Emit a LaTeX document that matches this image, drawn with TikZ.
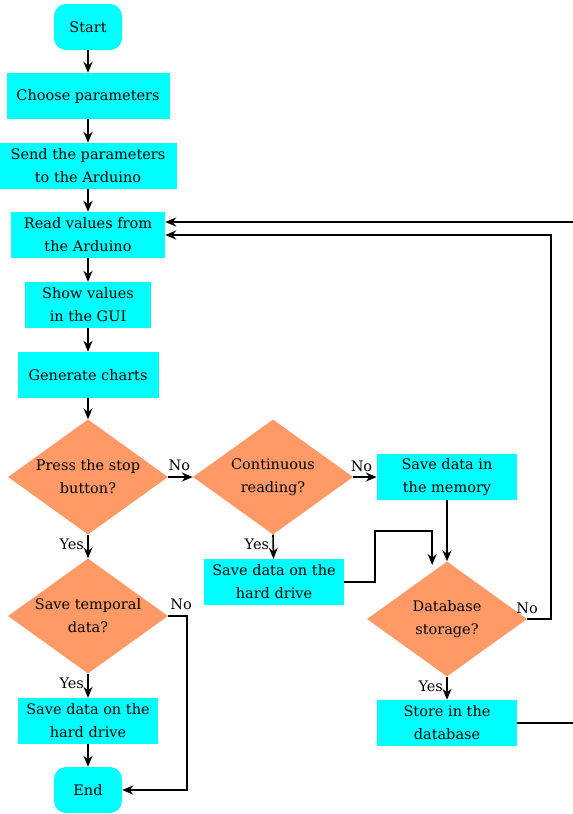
\documentclass[tikz,border=0pt]{standalone}
\usepackage{fontspec}
\setmainfont{DejaVu Serif}
\usepackage{tikz}
\usetikzlibrary{arrows.meta,shapes.geometric}
\definecolor{boxcyan}{RGB}{0,255,255}
\definecolor{decorange}{RGB}{255,153,102}

\begin{document}
\begin{tikzpicture}[x=1pt,y=-1pt,
  font=\fontsize{14.5}{23}\selectfont,
  proc/.style={fill=boxcyan,minimum height=46pt,inner sep=2pt,align=center},
  term/.style={proc,rounded corners=12pt,minimum width=68pt},
  dec/.style={diamond,fill=decorange,aspect=1.39,minimum width=160pt,
              minimum height=115pt,inner sep=0pt,align=center},
  arr/.style={-{Stealth[length=11pt,width=9pt]},line width=1.6pt},
  lbl/.style={font=\fontsize{14.5}{16}\selectfont}]
  \useasboundingbox (0,0) rectangle (573,814);
  % left column
  \node[term](S)   at (88,27)  {Start};
  \node[proc,minimum width=163pt](CP) at (88,96)  {Choose parameters};
  \node[proc,minimum width=177pt](SP) at (88,166) {Send the parameters\\to the Arduino};
  \node[proc,minimum width=154pt](RV) at (88,235) {Read values from\\the Arduino};
  \node[proc,minimum width=126pt](SV) at (88,305) {Show values\\in the GUI};
  \node[proc,minimum width=141pt](GC) at (88,375) {Generate charts};
  \node[dec](PS)   at (88,477) {Press the stop\\button?};
  \node[dec](ST)   at (88,616) {Save temporal\\data?};
  \node[proc,minimum width=140pt](HD1) at (88,721) {Save data on the\\hard drive};
  \node[term](E)   at (88,790) {End};
  % middle and right
  \node[dec](CR)   at (273,477) {Continuous\\reading?};
  \node[proc,minimum width=140pt](HD2) at (274,582) {Save data on the\\hard drive};
  \node[proc,minimum width=140pt](MEM) at (447,477) {Save data in\\the memory};
  \node[dec](DB)   at (447,619) {Database\\storage?};
  \node[proc,minimum width=140pt](SD)  at (447,723) {Store in the\\database};

  \draw[arr](S)--(CP); \draw[arr](CP)--(SP); \draw[arr](SP)--(RV);
  \draw[arr](RV)--(SV); \draw[arr](SV)--(GC); \draw[arr](GC)--(PS);
  \draw[arr](PS)--node[lbl,above,pos=0.45,yshift=2pt]{No}(CR);
  \draw[arr](CR)--node[lbl,above,pos=0.35,yshift=1pt]{No}(MEM);
  \draw[arr](PS)--node[lbl,left,pos=0.4]{Yes}(ST);
  \draw[arr](CR.south)--node[lbl,left,pos=0.4]{Yes}(HD2);
  \draw[arr](ST)--node[lbl,left,pos=0.4]{Yes}(HD1);
  \draw[arr](HD1)--(E);
  \draw[arr](MEM)--(DB);
  \draw[arr](DB)--node[lbl,left,pos=0.4]{Yes}(SD);
  \draw[arr](HD2.east)--++(31,0)--++(0,-51)--++(57,0)--++(0,34);
  \draw[arr](DB.east) node[lbl,above,yshift=1pt]{No}--++(24,0)|-(RV.east);
  \draw[arr](ST.east) node[lbl,above right,xshift=-2pt,yshift=2pt]{No}--++(19,0)|-(E.east);
  \draw[arr](SD.east)--++(70,0)|-([yshift=13pt]RV.east);
\end{tikzpicture}
\end{document}
